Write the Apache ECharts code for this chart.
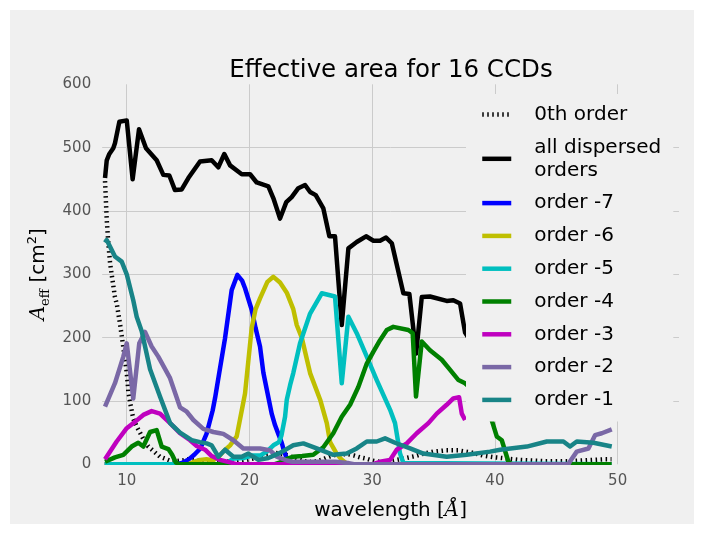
<!DOCTYPE html>
<html>
<head>
<meta charset="utf-8">
<script src="https://cdn.jsdelivr.net/npm/echarts@6/dist/echarts.min.js"></script>
<style>
html,body{margin:0;padding:0;background:#ffffff;}
#wrap{position:relative;width:704px;height:534px;}
#panel{position:absolute;left:10px;top:10px;width:684px;height:514px;background:#f0f0f0;}
#chart{position:absolute;left:0;top:0;width:704px;height:534px;}
</style>
</head>
<body>
<div id="wrap"><div id="panel"></div><div id="chart"></div></div>
<script>
// ---- data (wavelength in Å, effective area in cm^2) ----
const seriesNames = ['0th order', 'all dispersed\norders', 'order -7', 'order -6', 'order -5', 'order -4', 'order -3', 'order -2', 'order -1'];
const yTicks = [0, 100, 200, 300, 400, 500, 600];

const zerothOrder = [[8.23,447],[8.37,386],[8.5,349],[8.64,318],[8.77,300],[9.04,264],[9.2,252],[9.45,222],[9.72,185],[10.0,145],[10.13,115],[10.3,95],[10.53,72],[10.8,60],[11.08,50],[11.35,40],[11.76,28],[12.17,21],[12.7,12],[13.5,6],[14,5],[14.5,6],[15,8],[15.5,7],[16,5],[16.5,4],[17,3],[17.5,4],[18,5],[18.5,4],[19,5],[19.5,6],[20,8],[20.5,10],[21,13],[21.5,15],[22,18],[22.5,17],[23,15],[23.5,11],[24,8],[24.5,5],[25,4],[25.5,5],[26,8],[26.5,12],[27,15],[27.5,16],[28,16],[28.5,14],[29,11],[29.5,9],[30,6],[30.6,4],[31,4],[31.5,5],[32,7],[32.8,10],[33.5,13],[34,16],[35,20],[36,22],[37,22],[38,19],[39,14],[40,11],[41,9],[42,7],[43,6],[44,5],[45,5],[46,5],[47,6],[48,7],[49,8],[49.5,8]];

const allDispersed = [[8.23,452],[8.37,480],[8.58,490],[8.9,499],[9.04,507],[9.4,541],[10.0,543],[10.48,450],[11.0,529],[11.57,499],[12.44,480],[12.98,457],[13.47,456],[13.93,433],[14.48,434],[15.02,452],[15.97,478],[16.92,480],[17.46,469],[17.95,490],[18.42,472],[19.37,458],[20.05,458],[20.59,445],[21.54,439],[21.95,420],[22.49,388],[23.0,414],[23.44,422],[23.98,436],[24.53,441],[24.94,430],[25.4,425],[26.02,404],[26.51,360],[26.97,360],[27.52,220],[28.06,341],[28.74,351],[29.5,360],[30.1,353],[30.64,353],[31.13,358],[31.6,349],[32.54,270],[33.03,269],[33.58,175],[34.04,264],[34.71,265],[36.07,258],[36.61,259],[37.16,254],[37.57,208],[38,195],[39,180],[40,150],[41,115],[42,105],[43,105],[44,108],[45,110],[46,112],[47,120],[48,125],[49,130],[49.5,130]];

const orderM7 = [[8.2,0],[14,0],[14.5,2],[15,7],[15.5,15],[16,25],[16.5,48],[17,85],[17.2,105],[17.5,140],[18,198],[18.55,275],[19.01,299],[19.4,290],[19.64,278],[20.18,244],[20.5,215],[20.86,186],[21.13,145],[21.41,118],[21.81,80],[22.08,62],[22.35,48],[22.63,34],[22.8,22],[23.1,6],[23.4,0],[49.5,0]];

const orderM6 = [[8.2,0],[15,0],[15.5,4],[16,7],[16.5,8],[17,6],[17.5,12],[17.86,20],[18.42,30],[18.96,44],[19.37,85],[19.64,112],[20.18,215],[20.5,245],[20.86,262],[21.46,288],[21.95,296],[22.49,287],[23.04,271],[23.57,245],[23.85,220],[24.26,200],[24.94,144],[25.76,102],[26.3,65],[26.57,35],[27.1,17],[27.52,7],[28,0],[49.5,0]];

const orderM5 = [[8.2,0],[18,0],[18.69,9],[19.5,10],[20.3,14],[20.9,14],[21.41,20],[21.95,30],[22.4,35],[22.6,45],[22.9,75],[23.04,102],[23.31,125],[23.57,144],[24.12,191],[24.94,238],[25.89,270],[26.97,265],[27.52,128],[28.06,233],[28.74,207],[29.56,170],[30.37,133],[31.46,86],[31.86,65],[32.27,17],[32.54,2],[32.7,0],[49.5,0]];

const orderM4 = [[8.23,4],[9.04,11],[9.72,15],[10.4,28],[10.94,34],[11.35,28],[11.9,51],[12.44,54],[12.85,28],[13.39,24],[13.7,15],[14.0,3],[14.3,0],[22,0],[22.5,3],[23,8],[23.57,12],[24.3,13],[25.2,15],[26.02,27],[26.83,49],[27.52,75],[28.2,94],[28.87,122],[29.56,159],[30.1,178],[30.64,196],[31.19,212],[31.72,217],[32.95,212],[33.3,207],[33.57,107],[34.04,194],[34.71,180],[35.67,165],[36.35,149],[37.03,133],[37.57,128],[38.5,112],[39.2,95],[39.69,73],[40.15,44],[40.56,38],[41.1,4],[41.4,0],[49.5,0]];

const orderM3 = [[8.23,8],[9.18,36],[10,57],[10.67,67],[11.35,78],[12.03,84],[12.71,80],[13.53,65],[14.34,49],[15.16,38],[15.7,29],[16.38,23],[16.92,13],[17.6,7],[18.42,3],[19,0],[30,0],[30.64,4],[31.46,7],[32.0,23],[32.82,33],[33.63,49],[34.58,65],[35.26,80],[36.07,94],[36.61,104],[37.08,106],[37.3,80],[37.57,70]];

const orderM2 = [[8.23,91],[9.04,128],[9.72,170],[10,191],[10.53,104],[11.02,191],[11.49,209],[12.03,186],[12.57,170],[13.53,136],[14.34,90],[14.89,83],[15.43,70],[16.24,56],[17.06,51],[17.6,49],[17.87,48],[18.69,38],[19.5,25],[20.86,25],[21.41,23],[21.68,22],[22.22,12],[23.04,6],[23.5,4],[27,4],[28,2],[28.5,0],[46,0],[46.1,4],[46.67,20],[47.62,25],[48.16,46],[48.71,49],[49.52,55]];

const orderM1 = [[8.23,350],[8.37,354],[9.04,328],[9.59,320],[10,300],[10.53,259],[10.81,233],[11.22,210],[11.9,150],[12.71,107],[13.53,65],[14.34,50],[15.29,38],[15.97,35],[16.52,33],[16.92,30],[17.46,12],[18.01,23],[18.69,12],[19.37,12],[19.91,17],[20.73,7],[21.54,10],[22.49,18],[23.57,30],[24.39,33],[25.48,25],[26.83,15],[27.92,17],[28.74,25],[29.56,36],[30.37,36],[31.05,41],[31.86,34],[33.09,25],[34.17,17],[36.07,12],[37.7,15],[39.6,20],[40.42,23],[42.6,28],[44.23,36],[45.58,36],[46.12,28],[46.67,36],[48.03,34],[49.52,28]];

const seriesData = [zerothOrder, allDispersed, orderM7, orderM6, orderM5, orderM4, orderM3, orderM2, orderM1];
const seriesColors = ['#000000', '#000000', '#0000ff', '#bfbf00', '#00bfbf', '#008000', '#bf00bf', '#7a68a6', '#188487'];

const FONT = 'DejaVu Sans';
const chart = echarts.init(document.getElementById('chart'), null, {renderer: 'canvas'});

const series = seriesNames.map((name, i) => ({
  name: name,
  type: 'line',
  data: seriesData[i],
  showSymbol: false,
  symbol: 'none',
  smooth: false,
  lineStyle: {
    color: seriesColors[i],
    width: 4.5,
    type: i === 0 ? [1.5, 3.5] : 'solid',
    cap: 'butt',
    join: 'round'
  },
  itemStyle: {color: seriesColors[i]},
  emphasis: {disabled: true},
  z: 2
}));

const option = {
  animation: false,
  backgroundColor: 'transparent',
  title: {
    text: 'Effective area for 16 CCDs',
    left: 391, top: 58, textAlign: 'center', padding: 0,
    textStyle: {fontFamily: FONT, fontSize: 24.5, fontWeight: 'normal', color: '#000'}
  },
  grid: {left: 102.2, right: 25, top: 84.3, bottom: 69.7},
  xAxis: {
    type: 'value', min: 8, max: 55,
    axisLine: {show: false}, axisTick: {show: false},
    splitLine: {show: true, showMinLine: false, showMaxLine: false, lineStyle: {color: '#cbcbcb', width: 1}},
    axisLabel: {showMinLabel: false, showMaxLabel: false, fontFamily: FONT, fontSize: 15, color: '#555', margin: 9},
    name: 'wavelength [{it|Å}]',
    nameLocation: 'middle', nameGap: 36,
    nameTextStyle: {
      fontFamily: FONT, fontSize: 20, color: '#000',
      rich: {it: {fontFamily: 'DejaVu Serif', fontStyle: 'italic', fontSize: 20, color: '#000'}}
    }
  },
  yAxis: {
    type: 'value', min: 0, max: 600, interval: 100,
    axisLine: {show: false}, axisTick: {show: false},
    splitLine: {show: true, showMinLine: false, showMaxLine: false, lineStyle: {color: '#cbcbcb', width: 1}},
    axisLabel: {fontFamily: FONT, fontSize: 15, color: '#555', margin: 11,
      formatter: v => (yTicks.indexOf(v) >= 0 ? String(v) : '')},
    name: '{it|A}{sub|eff} [cm{sup|2}]',
    nameLocation: 'middle', nameRotate: 90, nameGap: 49,
    nameTextStyle: {
      fontFamily: FONT, fontSize: 20, color: '#000',
      rich: {
        it: {fontFamily: 'DejaVu Serif', fontStyle: 'italic', fontSize: 20, color: '#000', lineHeight: 26},
        sub: {fontFamily: 'DejaVu Serif', fontSize: 13, color: '#000', verticalAlign: 'bottom', lineHeight: 14},
        sup: {fontFamily: FONT, fontSize: 13, color: '#000', verticalAlign: 'top', lineHeight: 14}
      }
    }
  },
  legend: {
    orient: 'vertical',
    left: 466, top: 94,
    padding: [9, 12, 10, 14],
    backgroundColor: '#f0f0f0',
    borderWidth: 0,
    selectedMode: false,
    itemWidth: 29, itemHeight: 14, itemGap: 9.8,
    lineStyle: {width: 4.5},
    itemStyle: {opacity: 0, borderWidth: 0},
    textStyle: {fontFamily: FONT, fontSize: 20, color: '#000', lineHeight: 23, padding: [0, 0, 0, 18]},
    data: seriesNames,
    z: 10
  },
  graphic: [{
    type: 'rect', z: 100, silent: true,
    shape: {x: 95, y: 465, width: 590, height: 6},
    style: {fill: '#f0f0f0'}
  }],
  series: series
};
chart.setOption(option);
</script>
</body>
</html>
